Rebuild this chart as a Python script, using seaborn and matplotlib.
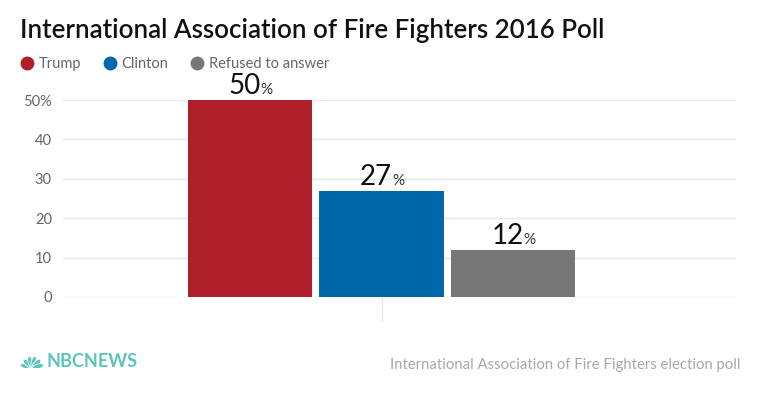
import matplotlib
matplotlib.use("Agg")
import matplotlib.pyplot as plt
from matplotlib.lines import Line2D
from matplotlib.patches import Ellipse
import numpy as np
import seaborn as sns

# data
poll = ["2016", "2016", "2016"]
candidates = ["Trump", "Clinton", "Refused to answer"]
shares = [50, 27, 12]
colors = ["#AF1F2A", "#0067A8", "#777777"]
yticks = [0, 10, 20, 30, 40, 50]
ytick_labels = ["0", "10", "20", "30", "40", "50%"]

title = "International Association of Fire Fighters 2016 Poll"
source = "International Association of Fire Fighters election poll"
teal = "#5BC4BC"

sns.set_theme(style="white")
plt.rcParams["font.family"] = ["Lato", "DejaVu Sans"]

fig = plt.figure(figsize=(7.6, 3.99), dpi=100)
W, H = 760, 399
ax = fig.add_axes([63 / W, 1 - 297 / H, (736 - 63) / W, (297 - 100) / H])

sns.barplot(x=poll, y=shares, hue=candidates, palette=colors, hue_order=candidates,
            width=0.8, gap=0.05, saturation=1, linewidth=0, legend=False, ax=ax)

ax.set_ylim(0, 50)
ax.set_xlim(-0.646, 0.719)
ax.set_yticks(yticks)
ax.set_yticklabels(ytick_labels)
ax.set_xticks([0])
ax.set_xticklabels([""])
ax.grid(axis="y", color="#e8e8e8", linewidth=1)
ax.set_axisbelow(True)
for s in ax.spines.values():
    s.set_visible(False)
ax.tick_params(axis="y", length=0, pad=8, labelsize=10.5, labelcolor="#666666")
ax.tick_params(axis="x", length=18, width=1, color="#e8e8e8", bottom=True)

# value labels: big number + small percent sign, sharing one baseline
for bar, val in zip(ax.patches, shares):
    cx = bar.get_x() + bar.get_width() / 2
    top = bar.get_height()
    ax.annotate(str(val), (cx, top), xytext=(7.5, 4), textcoords="offset points",
                ha="right", va="baseline", fontsize=20, color="#111111",
                annotation_clip=False)
    ax.annotate("%", (cx, top), xytext=(7.8, 4), textcoords="offset points",
                ha="left", va="baseline", fontsize=11, color="#333333",
                annotation_clip=False)

# title
fig.text(20 / W, 1 - 38 / H, title, fontsize=18.6, fontweight="semibold",
         color="#111111", ha="left", va="baseline")

# legend
handles = [Line2D([], [], marker="o", ls="", markersize=10, markerfacecolor=c,
                  markeredgewidth=0) for c in colors]
fig.legend(handles, candidates, loc="center left", bbox_to_anchor=(20 / W, 1 - 64 / H),
           ncol=3, frameon=False, fontsize=10.5, labelcolor="#666666",
           handlelength=1.0, handletextpad=0.3, columnspacing=1.45, borderpad=0,
           borderaxespad=0)

# footer: little peacock + NBC NEWS wordmark
logo = fig.add_axes([20 / W, 1 - 368 / H, 24 / W, 14 / H])
logo.set_xlim(-12, 12)
logo.set_ylim(0, 14)
logo.set_aspect("equal")
logo.axis("off")
for a in [-75, -45, -15, 15, 45, 75]:
    r = np.radians(a)
    e = Ellipse((6.3 * np.sin(r), 6.3 * np.cos(r)), width=4.8, height=11.5, angle=-a,
                facecolor=teal, edgecolor="white", lw=0.6)
    logo.add_patch(e)
fig.text(47 / W, 1 - 367 / H, "NBCNEWS", fontsize=13, fontweight="bold",
         color=teal, ha="left", va="baseline")
fig.text(741 / W, 1 - 369 / H, source, fontsize=10.7, color="#a8a8a8",
         ha="right", va="baseline")

fig.savefig("out.png", dpi=100)
